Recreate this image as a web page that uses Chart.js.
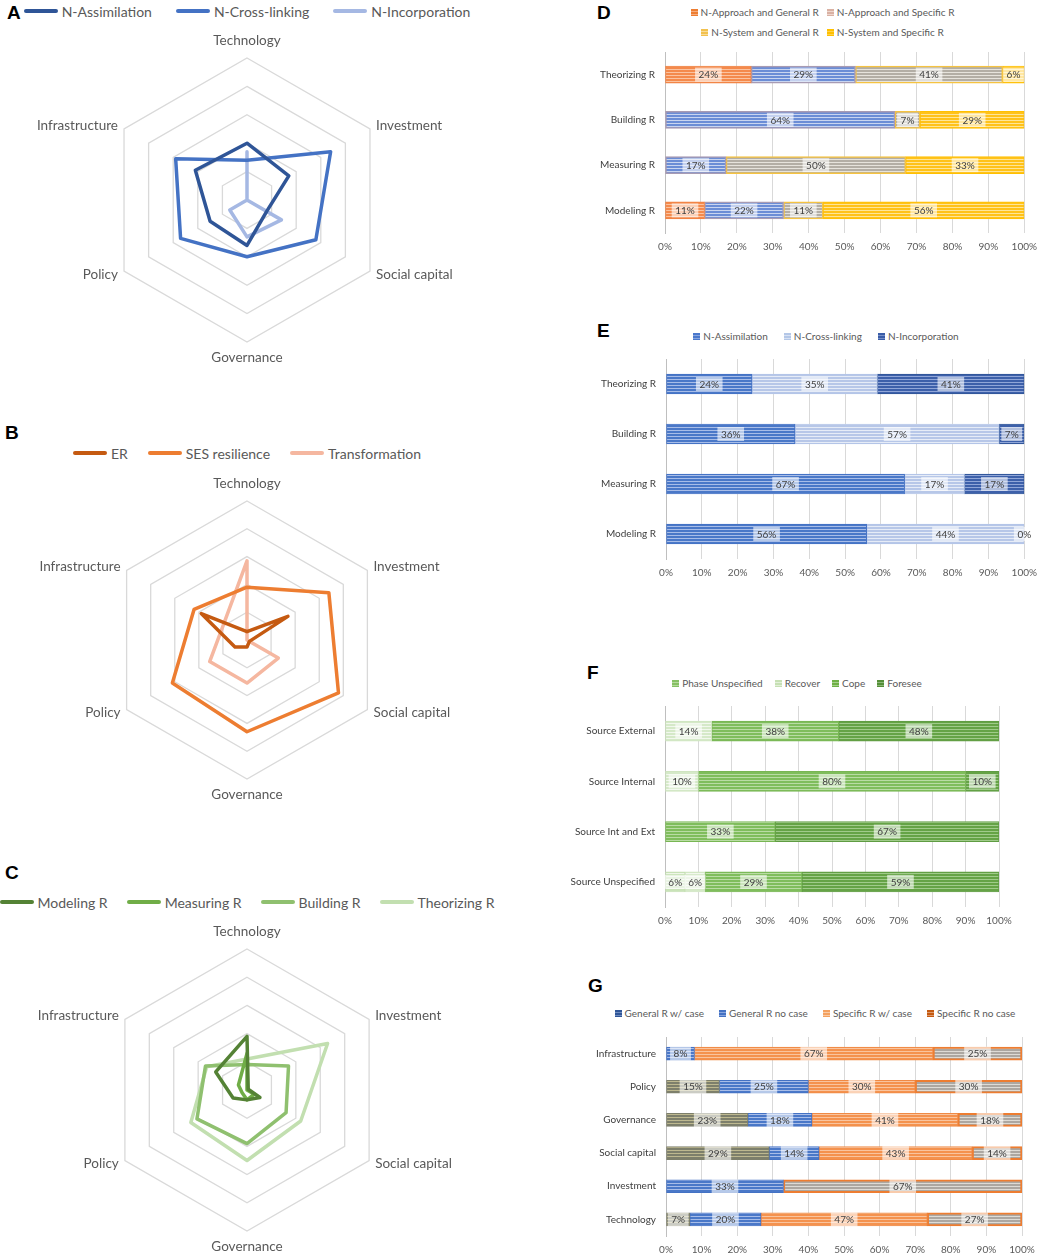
<!DOCTYPE html>
<html>
<head>
<meta charset="utf-8">
<script src="https://cdn.jsdelivr.net/npm/chart.js@4.4.1/dist/chart.umd.min.js"></script>
<style>
    body { margin: 0; width: 1045px; height: 1255px; overflow: hidden; background: #fff; position: relative; font-family: Lato, sans-serif; }
    canvas { position: absolute; }
    .tag { position: absolute; font: bold 19px "Liberation Sans", Arial, sans-serif; line-height: 19px; color: #000; }
    .leg { position: absolute; display: flex; flex-wrap: wrap; justify-content: center; align-items: center; color: #595959; white-space: nowrap; }
    .leg span { display: inline-flex; align-items: center; }
    .leg i { display: inline-block; }
    .rleg { font-size: 14px; height: 18px; }
    .rleg i { width: 34px; height: 4px; border-radius: 2px; margin-right: 4px; }
    .bleg { font-size: 10px; }
    .bleg span { height: 20px; }
    .bleg i { width: 7px; height: 7px; margin-right: 3px; }
</style>
</head>
<body>

<div class="tag" style="left:7px;top:3px">A</div>
<div class="tag" style="left:5px;top:423px">B</div>
<div class="tag" style="left:5px;top:863px">C</div>
<div class="tag" style="left:597px;top:3px">D</div>
<div class="tag" style="left:597px;top:321px">E</div>
<div class="tag" style="left:587px;top:663px">F</div>
<div class="tag" style="left:588px;top:976px">G</div>

<div class="leg rleg" id="legA" style="left:0;top:2px;width:494px;gap:24px"></div>
<div class="leg rleg" id="legB" style="left:0;top:444px;width:494px;gap:20px"></div>
<div class="leg rleg" id="legC" style="left:-23px;top:893px;width:540px;gap:19px"></div>
<div class="leg bleg" id="legD" style="left:690px;top:2px;width:265px;column-gap:8px"></div>
<div class="leg bleg" id="legE" style="left:626px;top:326px;width:400px;column-gap:16px"></div>
<div class="leg bleg" id="legF" style="left:597px;top:673px;width:400px;column-gap:12px"></div>
<div class="leg bleg" id="legG" style="left:595px;top:1003px;width:440px;column-gap:15px"></div>

<canvas id="radarA" width="494" height="350" style="left:0;top:25px"></canvas>
<canvas id="radarB" width="494" height="340" style="left:0;top:470px"></canvas>
<canvas id="radarC" width="494" height="340" style="left:0;top:915px"></canvas>
<canvas id="barD" width="515" height="221" style="left:530px;top:34px"></canvas>
<canvas id="barE" width="515" height="240" style="left:530px;top:341px"></canvas>
<canvas id="barF" width="515" height="241" style="left:530px;top:688px"></canvas>
<canvas id="barG" width="515" height="239" style="left:530px;top:1019px"></canvas>

<script>
// radar axes (clockwise from top)
const radarAxes = ['Technology', 'Investment', 'Social capital', 'Governance', 'Policy', 'Infrastructure'];

// A
const nAssimilation = [20, 17, 8, 16, 15, 21];
const nCrossLinking = [14, 34, 28, 20, 27, 29];
const nIncorporation = [17, 0, 14, 13, 7, 0];

// B
const er = [3, 17, 1, 2.5, 5, 19];
const sesResilience = [19, 34, 38, 33, 31, 22];
const transformation = [28.5, 0, 13, 15.5, 15.5, 10];

// C
const modelingR = [19, 0.5, 5.3, 3.5, 5.7, 12.8];
const measuringR = [13, 0, 3, 3.5, 2, 3.5];
const buildingR = [9, 17, 16, 19, 20.5, 17];
const theorizingR = [11, 33, 22, 25, 23, 16.5];

// bar categories
const methodCats = ['Theorizing R', 'Building R', 'Measuring R', 'Modeling R'];
const sourceCats = ['Source External', 'Source Internal', 'Source Int and Ext', 'Source Unspecified'];
const dimCats = ['Infrastructure', 'Policy', 'Governance', 'Social capital', 'Investment', 'Technology'];

// D (%)
const approachGeneral = [24, 0, 0, 11];
const approachSpecific = [29, 64, 17, 22];
const systemGeneral = [41, 7, 50, 11];
const systemSpecific = [6, 29, 33, 56];

// E (%)
const eAssimilation = [24, 36, 66.6, 56];
const eCrossLinking = [35, 57, 16.7, 44];
const eIncorporation = [41, 7, 16.7, 0];

// F (%)
const phaseUnspecified = [0, 0, 0, 6];
const recover = [14, 10, 0, 6];
const cope = [38, 80, 33, 29];
const foresee = [48, 10, 67, 59];

// G (%)
const generalWithCase = [0, 15, 23, 29, 0, 6.7];
const generalNoCase = [8, 25, 18, 14, 33, 20];
const specificWithCase = [67, 30, 41, 43, 0, 46.7];
const specificNoCase = [25, 30, 18, 14, 67, 26.6];

const pctMax = 100;
const pctStep = 10;

// horizontal stripe fill like the original bars
function stripes(base, line) {
    const c = document.createElement('canvas');
    c.width = 4;
    c.height = 3;
    const x = c.getContext('2d');
    x.fillStyle = base;
    x.fillRect(0, 0, 4, 3);
    x.fillStyle = line;
    x.fillRect(0, 2, 4, 1);
    return x.createPattern(c, 'repeat');
}

function cssStripes(base, line) {
    return 'repeating-linear-gradient(to bottom,' + base + ' 0 2px,' + line + ' 2px 3px)';
}

// axis names drawn next to the polygon corners
const axisNames = {
    id: 'axisNames',
    afterDraw(chart) {
        const s = chart.scales.r;
        const ctx = chart.ctx;
        ctx.save();
        ctx.font = '13.5px Lato';
        ctx.fillStyle = '#595959';
        ctx.textBaseline = 'middle';
        chart.data.labels.forEach((name, i) => {
            const gap = i === 0 ? 17 : (i === 3 ? 15.5 : 7);
            const p = s.getPointPosition(i, s.drawingArea + gap);
            ctx.textAlign = (i === 0 || i === 3) ? 'center' : (i < 3 ? 'left' : 'right');
            ctx.fillText(name, p.x, p.y);
        });
        ctx.restore();
    }
};

function radarChart(id, sets, padTop, padBottom) {
    new Chart(document.getElementById(id), {
        type: 'radar',
        data: {
            labels: radarAxes,
            datasets: sets.map(s => ({
                label: s.label,
                data: s.data,
                borderColor: s.color,
                backgroundColor: 'transparent',
                borderWidth: 3.5,
                borderJoinStyle: 'round',
                pointRadius: 0,
                fill: false
            }))
        },
        options: {
            responsive: false,
            animation: false,
            layout: { padding: { top: padTop, bottom: padBottom } },
            plugins: { legend: { display: false }, tooltip: { enabled: false } },
            scales: {
                r: {
                    min: 0,
                    max: 50,
                    ticks: { display: false, stepSize: 10 },
                    grid: { color: '#d9d9d9', lineWidth: 1.3 },
                    angleLines: { display: false },
                    pointLabels: { display: false }
                }
            }
        },
        plugins: [axisNames]
    });
}

// percentage labels in the middle of each segment
const segLabels = {
    id: 'segLabels',
    afterDatasetsDraw(chart, args, opts) {
        const ctx = chart.ctx;
        ctx.save();
        ctx.font = '10px Lato';
        ctx.textAlign = 'center';
        ctx.textBaseline = 'middle';
        chart.data.datasets.forEach((ds, di) => {
            chart.getDatasetMeta(di).data.forEach((bar, i) => {
                const v = ds.data[i];
                if (!v && !opts.showZero) return;
                const t = Math.round(v) + '%';
                const x = (bar.x + bar.base) / 2;
                const w = ctx.measureText(t).width + 7;
                ctx.fillStyle = 'rgba(255,255,255,0.6)';
                ctx.fillRect(x - w / 2, bar.y - 7, w, 14);
                ctx.fillStyle = '#404040';
                ctx.fillText(t, x, bar.y + 0.5);
            });
        });
        ctx.restore();
    }
};

function barChart(id, cats, sets, o) {
    new Chart(document.getElementById(id), {
        type: 'bar',
        data: {
            labels: cats,
            datasets: sets.map(s => ({
                label: s.label,
                data: s.data,
                backgroundColor: s.fill,
                borderColor: s.border,
                borderWidth: s.bw || 1,
                borderSkipped: false,
                barThickness: o.thick
            }))
        },
        options: {
            indexAxis: 'y',
            responsive: false,
            animation: false,
            layout: { padding: { top: 18, right: o.right, left: 0, bottom: 0 } },
            plugins: {
                legend: { display: false },
                tooltip: { enabled: false },
                segLabels: { showZero: !!o.showZero }
            },
            scales: {
                x: {
                    stacked: true,
                    min: 0,
                    max: pctMax,
                    ticks: {
                        stepSize: pctStep,
                        callback: v => v + '%',
                        color: '#595959',
                        font: { family: 'Lato', size: 10 },
                        padding: 8
                    },
                    grid: { color: '#d9d9d9', drawTicks: false },
                    border: { display: false },
                    afterFit: s => { s.height = 22; }
                },
                y: {
                    stacked: true,
                    grid: { display: false, drawTicks: false },
                    border: { color: '#bfbfbf' },
                    ticks: { color: '#404040', font: { family: 'Lato', size: 10 }, padding: 10 },
                    afterFit: s => { s.width = o.yw; }
                }
            }
        },
        plugins: [segLabels]
    });
}

function radarLegend(id, sets) {
    document.getElementById(id).innerHTML = sets.map(s =>
        '<span><i style="background:' + s.color + '"></i>' + s.label + '</span>').join('');
}

function barLegend(id, sets) {
    document.getElementById(id).innerHTML = sets.map(s =>
        '<span><i style="background:' + cssStripes(s.key, s.keyLine || '#ffffff') + '"></i>' + s.label + '</span>').join('');
}

// A
const setsA = [
    { label: 'N-Assimilation', data: nAssimilation, color: '#2f5597' },
    { label: 'N-Cross-linking', data: nCrossLinking, color: '#4472c4' },
    { label: 'N-Incorporation', data: nIncorporation, color: '#a5b8e3' }
];
radarLegend('legA', setsA);
radarChart('radarA', setsA, 33, 33);

// B
const setsB = [
    { label: 'ER', data: er, color: '#c55a11' },
    { label: 'SES resilience', data: sesResilience, color: '#ed7d31' },
    { label: 'Transformation', data: transformation, color: '#f5b7a0' }
];
radarLegend('legB', setsB);
radarChart('radarB', setsB, 31, 31);

// C
const setsC = [
    { label: 'Modeling R', data: modelingR, color: '#548235' },
    { label: 'Measuring R', data: measuringR, color: '#70ad47' },
    { label: 'Building R', data: buildingR, color: '#8fc06f' },
    { label: 'Theorizing R', data: theorizingR, color: '#c2dfb0' }
];
radarLegend('legC', setsC);
radarChart('radarC', setsC, 34, 24);

// D
const setsD = [
    { label: 'N-Approach and General R', data: approachGeneral, fill: stripes('#f48a4c', '#fbc3a0'), border: '#f08040', key: '#ed7d31', keyLine: '#f6ad80' },
    { label: 'N-Approach and Specific R', data: approachSpecific, fill: stripes('#6b8dd6', '#c9d5f0'), border: '#a89bb3', bw: 1.5, key: '#d9b1a3', keyLine: '#eed7cf' },
    { label: 'N-System and General R', data: systemGeneral, fill: stripes('#b3aea5', '#e6e3dc'), border: '#f5c342', bw: 1.5, key: '#f2c14e', keyLine: '#f8dd9c' },
    { label: 'N-System and Specific R', data: systemSpecific, fill: stripes('#ffc21a', '#ffe596'), border: '#ffc000', key: '#ffc000', keyLine: '#ffd24d' }
];
barLegend('legD', setsD);
barChart('barD', methodCats, setsD, { right: 18, yw: 135, thick: 17 });

// E
const setsE = [
    { label: 'N-Assimilation', data: eAssimilation, fill: stripes('#4a78c8', '#a8bde8'), border: '#4472c4', key: '#4a78cc', keyLine: '#8aa6de' },
    { label: 'N-Cross-linking', data: eCrossLinking, fill: stripes('#b7c7e8', '#e6ecf7'), border: '#b4c5e8', key: '#b4c7e7', keyLine: '#d9e2f3' },
    { label: 'N-Incorporation', data: eIncorporation, fill: stripes('#3d60aa', '#90a6d8'), border: '#2f5597', key: '#3a5da8', keyLine: '#7890c8' }
];
barLegend('legE', setsE);
barChart('barE', methodCats, setsE, { right: 17, yw: 136, thick: 20, showZero: true });

// F
const setsF = [
    { label: 'Phase Unspecified', data: phaseUnspecified, fill: stripes('#c9e3b8', '#eef6e8'), border: '#c5e0b4', key: '#86c063', keyLine: '#b5da9c' },
    { label: 'Recover', data: recover, fill: stripes('#d5e9c8', '#f2f8ee'), border: '#cfe5c0', key: '#c6e0b4', keyLine: '#e2f0d9' },
    { label: 'Cope', data: cope, fill: stripes('#7fbd5c', '#b9dca4'), border: '#78b653', key: '#6fb045', keyLine: '#a6d08c' },
    { label: 'Foresee', data: foresee, fill: stripes('#65a346', '#a0cb8a'), border: '#5f9c42', key: '#558f38', keyLine: '#8cb878' }
];
barLegend('legF', setsF);
barChart('barF', sourceCats, setsF, { right: 46, yw: 135, thick: 20 });

// G
const setsG = [
    { label: 'General R w/ case', data: generalWithCase, fill: stripes('#7d7f6b', '#bdb88f'), border: '#7d7f6b', key: '#2f5597', keyLine: '#6f8cc0' },
    { label: 'General R no case', data: generalNoCase, fill: stripes('#4a78c8', '#a8bde8'), border: '#4472c4', key: '#4472c4', keyLine: '#8aa6de' },
    { label: 'Specific R w/ case', data: specificWithCase, fill: stripes('#f4924e', '#f9c49e'), border: '#f08a45', key: '#f4a15f', keyLine: '#f9cba6' },
    { label: 'Specific R no case', data: specificNoCase, fill: stripes('#aca7a1', '#dedbd5'), border: '#ed7d31', bw: 2, key: '#c55a11', keyLine: '#dd9a6c' }
];
barLegend('legG', setsG);
barChart('barG', dimCats, setsG, { right: 23, yw: 136, thick: 13 });
</script>
</body>
</html>
